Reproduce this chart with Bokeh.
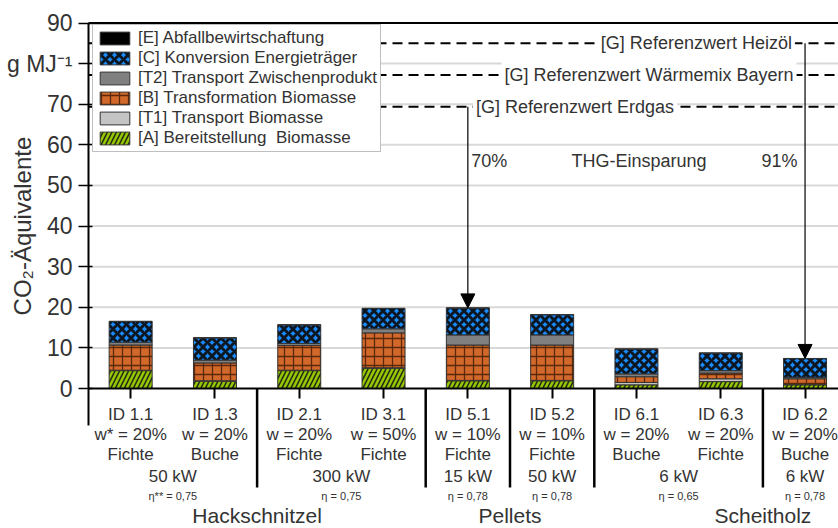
import math
from bokeh.plotting import figure
from bokeh.models import (Range1d, FixedTicker, Label, Arrow, NormalHead,
                          LinearAxis, Legend, LegendItem, ColumnDataSource)
from bokeh.core.properties import value
from bokeh.embed import file_html
from bokeh.resources import INLINE

# ---------------- data ----------------
ids = ["ID 1.1", "ID 1.3", "ID 2.1", "ID 3.1", "ID 5.1", "ID 5.2", "ID 6.1", "ID 6.3", "ID 6.2"]
moisture = ["w* = 20%", "w = 20%", "w = 20%", "w = 50%", "w = 10%", "w = 10%", "w = 20%", "w = 20%", "w = 20%"]
species = ["Fichte", "Buche", "Fichte", "Fichte", "Fichte", "Fichte", "Buche", "Fichte", "Buche"]
power_labels = ["50 kW", "300 kW", "15 kW", "50 kW", "6 kW", "6 kW"]
power_groups = [[0, 1], [2, 3], [4], [5], [6, 7], [8]]
eta_labels = ["η** = 0,75", "η = 0,75", "η = 0,78", "η = 0,78", "η = 0,65", "η = 0,78"]
fuel_labels = ["Hackschnitzel", "Pellets", "Scheitholz"]
fuel_pos = [1.5, 4.5, 7.5]
separators = [1.5, 3.5, 4.5, 5.5, 7.5]

stage_names = ["[A] Bereitstellung  Biomasse", "[T1] Transport Biomasse", "[B] Transformation Biomasse",
               "[T2] Transport Zwischenprodukt", "[C] Konversion Energieträger", "[E] Abfallbewirtschaftung"]
A  = [4.4, 1.8, 4.4, 5.0, 1.9, 1.9, 0.9, 1.7, 0.9]
T1 = [0.1, 0.1, 0.1, 0.1, 0.1, 0.1, 0.6, 0.7, 0.1]
B  = [6.2, 4.4, 6.1, 8.6, 8.7, 8.7, 1.4, 1.4, 1.4]
T2 = [0.7, 0.7, 0.5, 1.0, 2.5, 2.5, 0.7, 0.6, 0.35]
C  = [5.1, 5.45, 4.55, 5.0, 6.6, 4.95, 6.1, 4.3, 4.6]
E  = [0.05, 0.05, 0.05, 0.05, 0.05, 0.05, 0.05, 0.05, 0.05]

ref_labels = ["[G] Referenzwert Heizöl", "[G] Referenzwert Wärmemix Bayern", "[G] Referenzwert Erdgas"]
ref_values = [85.0, 77.2, 69.4]
savings = ["70%", "91%"]
savings_title = "THG-Einsparung"
savings_bars = [4, 8]
savings_refs = [2, 0]

y_ticks = [0, 10, 20, 30, 40, 50, 60, 70, 80, 90]
grid_ticks = [10, 20, 30, 40, 50, 60, 70, 80]
unit_tick = 80
y_label = "CO₂-Äquivalente"

# ---------------- layout constants ----------------
FONT = "Liberation Sans"
TXT = "#333333"
W, H = 838, 528
AX_X, AX_Y, TOP_Y = 88.0, 388.0, 22.5      # page px of y-axis, x-axis and y=90
XPX = 84.3                                  # px per category
YPX = (AX_Y - TOP_Y) / 90.0                 # px per unit
x0 = -0.5 - AX_X / XPX
x1 = -0.5 + (W - AX_X) / XPX
y0 = -(H - AX_Y) / YPX
y1 = 90 + TOP_Y / YPX

def dy(px):
    return px / YPX

def dx(px):
    return px / XPX

p = figure(width=W, height=H, output_backend="svg", toolbar_location=None,
           x_range=Range1d(x0, x1), y_range=Range1d(y0, y1),
           x_axis_location=None, y_axis_location=None,
           min_border=0, min_border_left=0, min_border_right=0,
           min_border_top=0, min_border_bottom=0,
           outline_line_color=None, background_fill_color="white")
p.grid.visible = False

# grid lines (from the y axis to the right edge)
p.segment(x0=[-0.5] * len(grid_ticks), x1=[x1] * len(grid_ticks), y0=grid_ticks, y1=grid_ticks,
          line_color="#d9d9d9", line_width=2)

# stacked bars
keys = ["A", "T1", "B", "T2", "C", "E"]
src = ColumnDataSource(dict(x=list(range(len(ids))), A=A, T1=T1, B=B, T2=T2, C=C, E=E))
fills = ["#95c800", "#c4c4c4", "#d2692a", "#808080", "#1a8cff", "#000000"]
hatches = ["/", " ", "+", " ", "x", " "]
hatch_colors = ["#1a1a1a", "#000000", "#3d1804", "#000000", "#0a0a0a", "#000000"]
hatch_scales = [9, 12, 9, 12, 9, 12]
hatch_weights = [1.6, 1, 1.3, 1, 3.0, 1]
hatch_alphas = [0.9, 1, 0.8, 1, 0.9, 1]
rs = p.vbar_stack(keys, x="x", width=0.51, source=src, fill_color=fills,
                  line_color="#333333", line_width=1,
                  hatch_pattern=hatches, hatch_color=hatch_colors, hatch_scale=hatch_scales,
                  hatch_weight=hatch_weights, hatch_alpha=hatch_alphas)

# top frame line
p.segment(x0=[-0.5], x1=[x1], y0=[90], y1=[90], line_color="black", line_width=2)

# axes placed at fixed data locations
yaxis = LinearAxis(fixed_location=-0.5, bounds=(-dy(37), 90),
                   ticker=FixedTicker(ticks=y_ticks, minor_ticks=[]),
                   major_label_overrides={unit_tick: "g MJ⁻¹"},
                   major_label_text_font=FONT, major_label_text_font_size="23px",
                   major_label_text_color=TXT, major_tick_out=10, major_tick_in=4,
                   major_tick_line_width=1.5, axis_line_width=2, axis_line_color="black",
                   minor_tick_line_color=None, major_label_standoff=6)
p.add_layout(yaxis, "left")

xaxis = LinearAxis(fixed_location=0, bounds=(-0.5, x1),
                   ticker=FixedTicker(ticks=list(range(len(ids))), minor_ticks=[]),
                   major_label_overrides={i: ids[i] for i in range(len(ids))},
                   major_label_text_font=FONT, major_label_text_font_size="17px",
                   major_label_text_color=TXT, major_tick_out=10, major_tick_in=0,
                   major_tick_line_width=2, axis_line_width=2, axis_line_color="black",
                   minor_tick_line_color=None, major_label_standoff=6)
p.add_layout(xaxis, "below")

# y label
p.add_layout(Label(x=-0.5 - dx(AX_X - 22), y=40, text=y_label, angle=math.pi / 2,
                   text_align="center", text_baseline="middle", text_font=FONT,
                   text_font_size="24px", text_color=TXT))

# reference lines
n = len(ref_values)
p.segment(x0=[-0.5] * n, x1=[x1] * n, y0=ref_values, y1=ref_values,
          line_color="black", line_width=2, line_dash="10 6")
ref_x = [7.88, 7.9, 4.06]
ref_align = ["right", "right", "left"]
for lab, val, xx, al in zip(ref_labels, ref_values, ref_x, ref_align):
    p.add_layout(Label(x=xx, y=val, text=lab, text_align=al, text_baseline="middle",
                       text_font=FONT, text_font_size="18px", text_color=TXT,
                       background_fill_color="white", padding=3))

# savings arrows
tops = [sum(v) for v in zip(A, T1, B, T2, C, E)]
for bi, ri in zip(savings_bars, savings_refs):
    p.add_layout(Arrow(end=NormalHead(size=14, fill_color="black", line_color="black"),
                       x_start=bi, y_start=ref_values[ri], x_end=bi, y_end=tops[bi],
                       line_color="black", line_width=1.2))

p.text(x=[4.04], y=[56], text=[savings[0]], text_align="left", text_baseline="middle",
       text_font=value(FONT), text_font_size="18px", text_color=TXT)
p.text(x=[6.03], y=[56], text=[savings_title], text_align="center", text_baseline="middle",
       text_font=value(FONT), text_font_size="18px", text_color=TXT)
p.text(x=[7.91], y=[56], text=[savings[1]], text_align="right", text_baseline="middle",
       text_font=value(FONT), text_font_size="18px", text_color=TXT)

# group separators below the axis
ns = len(separators)
p.segment(x0=separators, x1=separators, y0=[0] * ns, y1=[-dy(99)] * ns,
          line_color="black", line_width=2.5)

# category and group labels below the axis
xs = list(range(len(ids)))
p.text(x=xs, y=[-dy(46)] * len(xs), text=moisture, text_align="center", text_baseline="middle",
       text_font=value(FONT), text_font_size="17px", text_color=TXT)
p.text(x=xs, y=[-dy(66)] * len(xs), text=species, text_align="center", text_baseline="middle",
       text_font=value(FONT), text_font_size="17px", text_color=TXT)
px_ = [sum(g) / len(g) for g in power_groups]
p.text(x=px_, y=[-dy(88)] * len(px_), text=power_labels, text_align="center", text_baseline="middle",
       text_font=value(FONT), text_font_size="17px", text_color=TXT)
p.text(x=px_, y=[-dy(107)] * len(px_), text=eta_labels, text_align="center", text_baseline="middle",
       text_font=value(FONT), text_font_size="11px", text_color=TXT)
p.text(x=fuel_pos, y=[-dy(127)] * len(fuel_pos), text=fuel_labels, text_align="center",
       text_baseline="middle", text_font=value(FONT), text_font_size="21px", text_color=TXT)

# legend
items = [LegendItem(label=nm, renderers=[r]) for nm, r in zip(stage_names, rs)][::-1]
legend = Legend(items=items, location=(92, H - 152), margin=0, padding=3, spacing=0,
                glyph_width=37, glyph_height=16, label_height=16, label_standoff=5,
                label_text_font=FONT, label_text_font_size="17px", label_text_color=TXT,
                border_line_color="#808080", border_line_width=1.5,
                background_fill_color="white", background_fill_alpha=1)
p.add_layout(legend)

open("out.html", "w").write(file_html(p, INLINE))
